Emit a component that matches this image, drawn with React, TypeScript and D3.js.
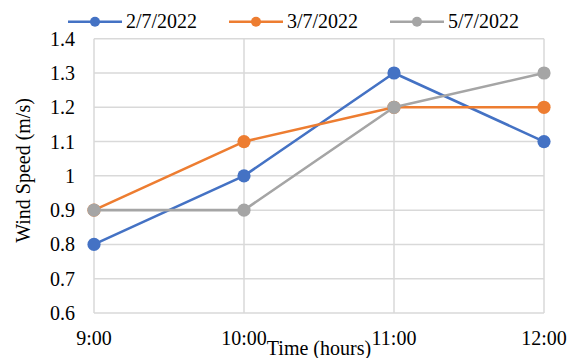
import React from "react";
import * as d3 from "d3";

const times = ["9:00", "10:00", "11:00", "12:00"];
const seriesNames = ["2/7/2022", "3/7/2022", "5/7/2022"];
const seriesColors = ["#4472C4", "#ED7D31", "#A5A5A5"];
const day1 = [0.8, 1.0, 1.3, 1.1];
const day2 = [0.9, 1.1, 1.2, 1.2];
const day3 = [0.9, 0.9, 1.2, 1.3];
const yTicks = [0.6, 0.7, 0.8, 0.9, 1, 1.1, 1.2, 1.3, 1.4];

const W = 568;
const H = 358;
const plot = { left: 94, right: 544, top: 38.7, bottom: 313 };
const FONT = '"Liberation Serif", "Times New Roman", Times, "DejaVu Serif", serif';

export default function App() {
  const series = [day1, day2, day3];
  const x = d3
    .scalePoint<string>()
    .domain(times)
    .range([plot.left, plot.right]);
  const y = d3.scaleLinear().domain([0.6, 1.4]).range([plot.bottom, plot.top]);
  const line = d3
    .line<number>()
    .x((_, i) => x(times[i]) as number)
    .y((d) => y(d));

  const legendItems = [
    { lineX: 68, textX: 126 },
    { lineX: 229, textX: 287 },
    { lineX: 390, textX: 448 },
  ];

  const textStyle = { fontFamily: FONT, fontSize: "20px" };

  return (
    <svg
      width={W}
      height={H}
      style={{ position: "absolute", left: 0, top: 0, background: "#fff" }}
    >
      {/* horizontal gridlines */}
      {yTicks.map((t) => (
        <line
          key={"h" + t}
          x1={plot.left}
          x2={plot.right}
          y1={y(t)}
          y2={y(t)}
          stroke="#D9D9D9"
          strokeWidth={1.5}
        />
      ))}
      {/* vertical gridlines */}
      {times.map((t) => (
        <line
          key={"v" + t}
          x1={x(t)}
          x2={x(t)}
          y1={plot.top}
          y2={plot.bottom}
          stroke="#D9D9D9"
          strokeWidth={1.5}
        />
      ))}
      {/* y tick labels */}
      {yTicks.map((t) => (
        <text
          key={"yl" + t}
          x={75}
          y={y(t) + 7}
          textAnchor="end"
          style={textStyle}
          fill="#000"
        >
          {d3.format("~g")(t)}
        </text>
      ))}
      {/* x tick labels */}
      {times.map((t) => (
        <text
          key={"xl" + t}
          x={x(t)}
          y={345}
          textAnchor="middle"
          style={textStyle}
          fill="#000"
        >
          {t}
        </text>
      ))}
      {/* axis titles */}
      <text
        transform={`translate(30,170.5) rotate(-90)`}
        textAnchor="middle"
        style={textStyle}
        fill="#000"
      >
        Wind Speed (m/s)
      </text>
      <text x={319} y={355} textAnchor="middle" style={textStyle} fill="#000">
        Time (hours)
      </text>
      {/* series */}
      {series.map((vals, si) => (
        <g key={"s" + si}>
          <path
            d={line(vals) || ""}
            fill="none"
            stroke={seriesColors[si]}
            strokeWidth={2.6}
            strokeLinejoin="round"
          />
          {vals.map((v, i) => (
            <circle
              key={i}
              cx={x(times[i])}
              cy={y(v)}
              r={6.6}
              fill={seriesColors[si]}
            />
          ))}
        </g>
      ))}
      {/* legend */}
      {seriesNames.map((name, si) => {
        const it = legendItems[si];
        return (
          <g key={"lg" + si}>
            <line
              x1={it.lineX}
              x2={it.lineX + 54}
              y1={21.7}
              y2={21.7}
              stroke={seriesColors[si]}
              strokeWidth={2.6}
            />
            <circle cx={it.lineX + 27} cy={21.7} r={5} fill={seriesColors[si]} />
            <text x={it.textX} y={28.3} style={textStyle} fill="#000">
              {name}
            </text>
          </g>
        );
      })}
    </svg>
  );
}
